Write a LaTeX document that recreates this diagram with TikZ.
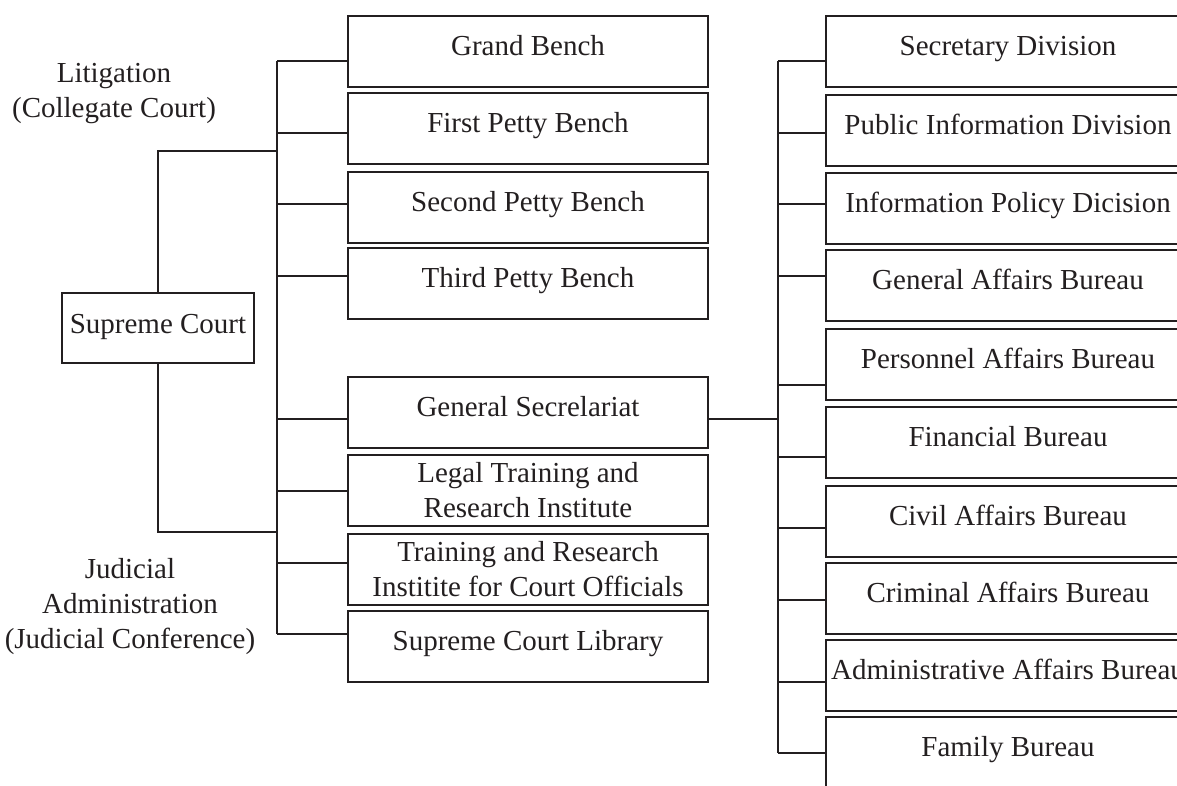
\documentclass[tikz,border=0pt]{standalone}
\usepackage{fontspec}
\setmainfont{Liberation Serif}
\definecolor{ink}{RGB}{35,31,32}
\begin{document}
\begin{tikzpicture}[x=1pt,y=-1pt,
  every node/.style={text=ink},
  txt/.style={font=\fontsize{29pt}{35pt}\selectfont},
  boxa/.style={txt,draw=ink,line width=2pt,inner sep=0pt,outer sep=0pt,anchor=north west,
    text height=39pt,text depth=32pt},
  boxl/.style={boxa,minimum width=360pt},
  boxr/.style={boxa,minimum width=364pt},
  boxb/.style={txt,draw=ink,line width=2pt,inner sep=0pt,outer sep=0pt,anchor=north west,
    minimum width=360pt,minimum height=71pt,align=center},
  link/.style={draw=ink,line width=1.6pt},
  lab/.style={txt,align=center,inner sep=0pt,anchor=base}]
\clip (0,0) rectangle (1177,785);
% Supreme Court
\node[boxa,minimum width=192pt,text height=40pt,text depth=30pt] (sc) at (62,293) {Supreme Court};
% left column
\node[boxl] (gb) at (348,16) {Grand Bench};
\node[boxl] (fp) at (348,93) {First Petty Bench};
\node[boxl] (sp) at (348,172) {Second Petty Bench};
\node[boxl] (tp) at (348,248) {Third Petty Bench};
\node[boxl] (gs) at (348,377) {General Secrelariat};
\node[boxb] (lt) at (348,455) {Legal Training and\\Research Institute};
\node[boxb] (tr) at (348,534) {Training and Research\\Institite for Court Officials};
\node[boxl] (lib) at (348,611) {Supreme Court Library};
% right column
\node[boxr] (sd) at (826,16) {Secretary Division};
\node[boxr] (pi) at (826,95) {Public Information Division};
\node[boxr] (ip) at (826,173) {Information Policy Dicision};
\node[boxr] (ga) at (826,250) {General Affairs Bureau};
\node[boxr] (pa) at (826,329) {Personnel Affairs Bureau};
\node[boxr] (fb) at (826,407) {Financial Bureau};
\node[boxr] (ca) at (826,486) {Civil Affairs Bureau};
\node[boxr] (cr) at (826,563) {Criminal Affairs Bureau};
\node[boxr] (aa) at (826,640) {Administrative Affairs Bureau};
\node[boxr] (fa) at (826,717) {Family Bureau};
% side labels (base = baseline of the last line)
\node[lab] (lit) at (114,117) {Litigation\\(Collegate Court)};
\node[lab] (adm) at (130,648) {Judicial\\Administration\\(Judicial Conference)};
% left trunk
\foreach \n/\y in {gb/61,fp/133,sp/204,tp/276,gs/419,lt/491,tr/563,lib/634}{
  \coordinate (jL-\n) at (277,\y);
  \draw[link] (jL-\n) -- (jL-\n -| \n.west);
}
\draw[link] (jL-gb) -- (jL-lib);
% Supreme Court to trunk
\coordinate (sT) at (158,151);
\coordinate (sB) at (158,532);
\draw[link] (sc.north) -- (sT) -- (sT -| jL-gb);
\draw[link] (sc.south) -- (sB) -- (sB -| jL-gb);
% right trunk
\foreach \n/\y in {sd/61,pi/133,ip/204,ga/276,pa/385,fb/457,ca/528,cr/600,aa/682,fa/753}{
  \coordinate (jR-\n) at (778,\y);
  \draw[link] (jR-\n) -- (jR-\n -| \n.west);
}
\draw[link] (jR-sd) -- (jR-fa);
\coordinate (jR-gs) at (778,419);
\draw[link] (gs.east |- jR-gs) -- (jR-gs);
\end{tikzpicture}
\end{document}
